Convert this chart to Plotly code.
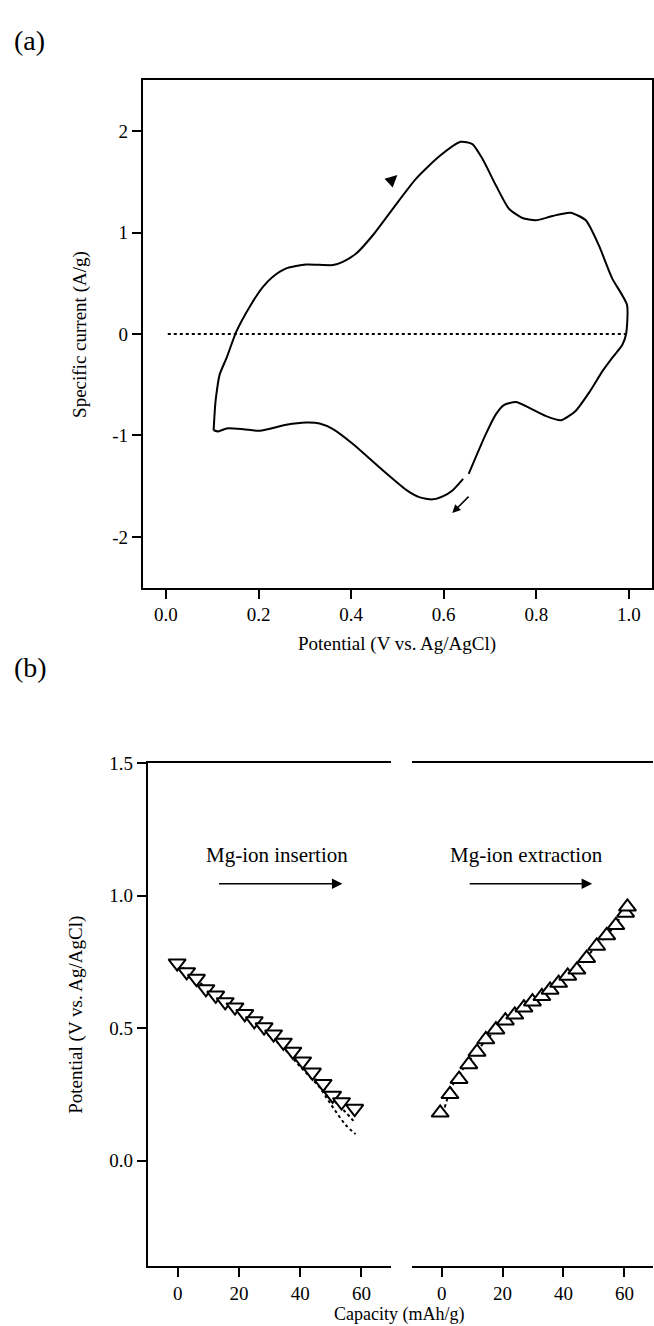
import plotly.graph_objects as go

W, H = 654, 1326
FONT = "Liberation Serif, Times New Roman, serif"

# ---------- panel (a): cyclic voltammogram ----------
cv_potential = [0.103, 0.106, 0.108, 0.116, 0.131, 0.1523, 0.181, 0.21, 0.231, 0.26, 0.303,
                0.361, 0.382, 0.411, 0.447, 0.49, 0.54, 0.59, 0.637, 0.662, 0.684, 0.713, 0.741,
                0.77, 0.799, 0.835, 0.874, 0.907, 0.935, 0.964, 0.996, 0.994,
                0.986, 0.964, 0.943, 0.914, 0.885, 0.853, 0.82, 0.784, 0.756, 0.73, 0.713, 0.691,
                0.654, None, 0.642, 0.619, 0.598, 0.576, 0.547, 0.519, 0.461, 0.404, 0.361, 0.332,
                0.303, 0.26, 0.203, 0.167, 0.131, 0.113, 0.103]
cv_current = [-0.948, -0.725, -0.63, -0.40, -0.235, 0.026, 0.27, 0.467, 0.565, 0.647, 0.686,
              0.68, 0.712, 0.794, 0.974, 1.235, 1.53, 1.75, 1.895, 1.873, 1.725, 1.464, 1.235,
              1.144, 1.121, 1.164, 1.196, 1.121, 0.876, 0.549, 0.288, 0.0,
              -0.105, -0.235, -0.366, -0.578, -0.758, -0.85, -0.807, -0.725, -0.67, -0.70, -0.79, -0.987,
              -1.379, None, -1.428, -1.542, -1.60, -1.63, -1.608, -1.536, -1.314, -1.085, -0.938, -0.882,
              -0.873, -0.895, -0.954, -0.938, -0.931, -0.96, -0.948]

base_potential = [0.004, 0.993]
base_current = [0.0, 0.0]

a_xticks = [0.0, 0.2, 0.4, 0.6, 0.8, 1.0]
a_xticktext = ["0.0", "0.2", "0.4", "0.6", "0.8", "1.0"]
a_yticks = [-2, -1, 0, 1, 2]
a_yticktext = ["-2", "-1", "0", "1", "2"]

# ---------- panel (b): charge / discharge ----------
ins_capacity = [-0.2, 2.9, 6.1, 9.2, 12.4, 15.5, 18.7, 21.9, 25.0, 28.2, 31.3, 34.5, 37.6, 40.8,
                44.0, 47.5, 50.6, 53.5, 57.8]
ins_potential = [0.745, 0.712, 0.687, 0.648, 0.624, 0.599, 0.579, 0.554, 0.527, 0.504, 0.477, 0.446,
                 0.412, 0.375, 0.333, 0.29, 0.246, 0.221, 0.196]

ins_dot1_capacity = [0, 5, 10, 15, 20, 25, 30, 35, 38.7, 42, 46.3, 49, 51.7, 54.9, 58.1]
ins_dot1_potential = [0.74, 0.69, 0.64, 0.60, 0.555, 0.515, 0.47, 0.42, 0.371, 0.33, 0.277, 0.23,
                      0.184, 0.134, 0.10]
ins_dot2_capacity = [0, 5, 10, 15, 20, 25, 30, 35, 40, 44, 48.5, 52, 55, 57.7]
ins_dot2_potential = [0.745, 0.695, 0.645, 0.605, 0.56, 0.52, 0.475, 0.425, 0.365, 0.32, 0.262,
                      0.215, 0.18, 0.146]

ext_capacity = [-0.5, 2.7, 5.7, 8.9, 11.6, 14.5, 17.8, 20.9, 24.0, 27.0, 29.8, 32.9, 35.6, 38.4,
                41.4, 44.4, 47.6, 50.9, 54.2, 57.2, 60.4, 61.0]
ext_potential = [0.18, 0.25, 0.307, 0.363, 0.41, 0.457, 0.494, 0.528, 0.55, 0.577, 0.60, 0.62,
                 0.644, 0.67, 0.697, 0.72, 0.764, 0.81, 0.85, 0.888, 0.935, 0.958]

ext_dot_capacity = [1.0, 3, 6, 10, 15, 20, 25, 30, 35, 40, 45, 50, 55, 60]
ext_dot_potential = [0.20, 0.27, 0.33, 0.39, 0.46, 0.515, 0.56, 0.60, 0.64, 0.68, 0.73, 0.80, 0.86, 0.94]

b_xticks = [0, 20, 40, 60]
b_xticktext = ["0", "20", "40", "60"]
b_yticks = [0.0, 0.5, 1.0, 1.5]
b_yticktext = ["0.0", "0.5", "1.0", "1.5"]

fig = go.Figure()

# panel (a) traces
fig.add_trace(go.Scatter(x=base_potential, y=base_current, mode="lines",
                         line=dict(color="black", width=2, dash="dot"),
                         xaxis="x", yaxis="y", showlegend=False, hoverinfo="skip"))
fig.add_trace(go.Scatter(x=cv_potential, y=cv_current, mode="lines",
                         line=dict(color="black", width=2, shape="spline", smoothing=0.6),
                         connectgaps=False, xaxis="x", yaxis="y", showlegend=False))

# panel (b) traces
for xs, ys in [(ins_dot1_capacity, ins_dot1_potential), (ins_dot2_capacity, ins_dot2_potential)]:
    fig.add_trace(go.Scatter(x=xs, y=ys, mode="lines",
                             line=dict(color="black", width=2, dash="dot", shape="spline"),
                             xaxis="x2", yaxis="y2", showlegend=False, hoverinfo="skip"))
fig.add_trace(go.Scatter(x=ins_capacity, y=ins_potential, mode="markers",
                         marker=dict(symbol="triangle-down", size=15, color="white",
                                     line=dict(color="black", width=2)),
                         xaxis="x2", yaxis="y2", showlegend=False))
fig.add_trace(go.Scatter(x=ext_dot_capacity, y=ext_dot_potential, mode="lines",
                         line=dict(color="black", width=2, dash="dot", shape="spline"),
                         xaxis="x3", yaxis="y3", showlegend=False, hoverinfo="skip"))
fig.add_trace(go.Scatter(x=ext_capacity, y=ext_potential, mode="markers",
                         marker=dict(symbol="triangle-up", size=15, color="white",
                                     line=dict(color="black", width=2)),
                         xaxis="x3", yaxis="y3", showlegend=False))

axis_common = dict(showgrid=False, zeroline=False, showline=True, linecolor="black", linewidth=2,
                   ticks="outside", ticklen=9, tickwidth=2, tickcolor="black",
                   tickfont=dict(family=FONT, size=19, color="black"))

dom_a_y = [1 - 582 / H, 1 - 71 / H]
dom_b_y = [1 - 1266 / H, 1 - 759 / H]

fig.update_layout(
    width=W, height=H, margin=dict(l=0, r=0, t=0, b=0),
    paper_bgcolor="white", plot_bgcolor="white",
    font=dict(family=FONT, size=19, color="black"),
    xaxis=dict(domain=[143 / W, 653 / W], anchor="y", range=[-0.05, 1.05], mirror=True,
               tickvals=a_xticks, ticktext=a_xticktext, **axis_common),
    yaxis=dict(domain=dom_a_y, anchor="x", range=[-2.5, 2.5], mirror=True,
               tickvals=a_yticks, ticktext=a_yticktext, **axis_common),
    xaxis2=dict(domain=[148 / W, 392 / W], anchor="y2", range=[-9.8, 69.8], mirror=True,
                tickvals=b_xticks, ticktext=b_xticktext, **axis_common),
    yaxis2=dict(domain=dom_b_y, anchor="x2", range=[-0.4, 1.5], mirror=False,
                tickvals=b_yticks, ticktext=b_yticktext, **axis_common),
    xaxis3=dict(domain=[412.5 / W, 1.0], anchor="y3", range=[-9.8, 69.4], mirror=True,
                tickvals=b_xticks, ticktext=b_xticktext, **axis_common),
    yaxis3=dict(domain=dom_b_y, anchor="x3", range=[-0.4, 1.5], visible=False,
                showgrid=False, zeroline=False),
)

ann = []
ann.append(dict(text="(a)", x=12 / W, y=1 - 31 / H, xref="paper", yref="paper",
                xanchor="left", yanchor="middle", showarrow=False, font=dict(size=28)))
ann.append(dict(text="(b)", x=12 / W, y=1 - 662 / H, xref="paper", yref="paper",
                xanchor="left", yanchor="middle", showarrow=False, font=dict(size=28)))
ann.append(dict(text="Potential (V vs. Ag/AgCl)", x=398 / W, y=1 - 639 / H, xref="paper",
                yref="paper", xanchor="center", yanchor="middle", showarrow=False))
ann.append(dict(text="Specific current (A/g)", x=80 / W, y=(dom_a_y[0] + dom_a_y[1]) / 2,
                xref="paper", yref="paper", textangle=-90, xanchor="center", yanchor="middle",
                showarrow=False))
ann.append(dict(text="Potential (V vs. Ag/AgCl)", x=76 / W, y=(dom_b_y[0] + dom_b_y[1]) / 2,
                xref="paper", yref="paper", textangle=-90, xanchor="center", yanchor="middle",
                showarrow=False))
ann.append(dict(text="Capacity (mAh/g)", x=400 / W, y=1 - 1314 / H, xref="paper", yref="paper",
                xanchor="center", yanchor="middle", showarrow=False, font=dict(size=18)))
# CV direction arrows
ann.append(dict(x=0.5, y=1.569, ax=0.479, ay=1.48, xref="x", yref="y", axref="x", ayref="y",
                text="", showarrow=True, arrowhead=2, arrowsize=1.6, arrowwidth=1.5,
                arrowcolor="black", standoff=0))
ann.append(dict(x=0.6185, y=-1.765, ax=0.657, ay=-1.588, xref="x", yref="y", axref="x",
                ayref="y", text="", showarrow=True, arrowhead=2, arrowsize=1.1, arrowwidth=1.5,
                arrowcolor="black", standoff=0))
# panel (b) labels and arrows
ann.append(dict(text="Mg-ion insertion", x=32.3, y=1.153, xref="x2", yref="y2",
                showarrow=False, font=dict(size=21), xanchor="center", yanchor="middle"))
ann.append(dict(text="Mg-ion extraction", x=27.7, y=1.153, xref="x3", yref="y3",
                showarrow=False, font=dict(size=21), xanchor="center", yanchor="middle"))
ann.append(dict(x=53.8, y=1.045, ax=13.0, ay=1.045, xref="x2", yref="y2", axref="x2",
                ayref="y2", text="", showarrow=True, arrowhead=2, arrowsize=1.4, arrowwidth=1.5,
                arrowcolor="black", standoff=0))
ann.append(dict(x=49.4, y=1.045, ax=8.7, ay=1.045, xref="x3", yref="y3", axref="x3",
                ayref="y3", text="", showarrow=True, arrowhead=2, arrowsize=1.4, arrowwidth=1.5,
                arrowcolor="black", standoff=0))
fig.update_layout(annotations=ann)

fig.write_html("out.html")
